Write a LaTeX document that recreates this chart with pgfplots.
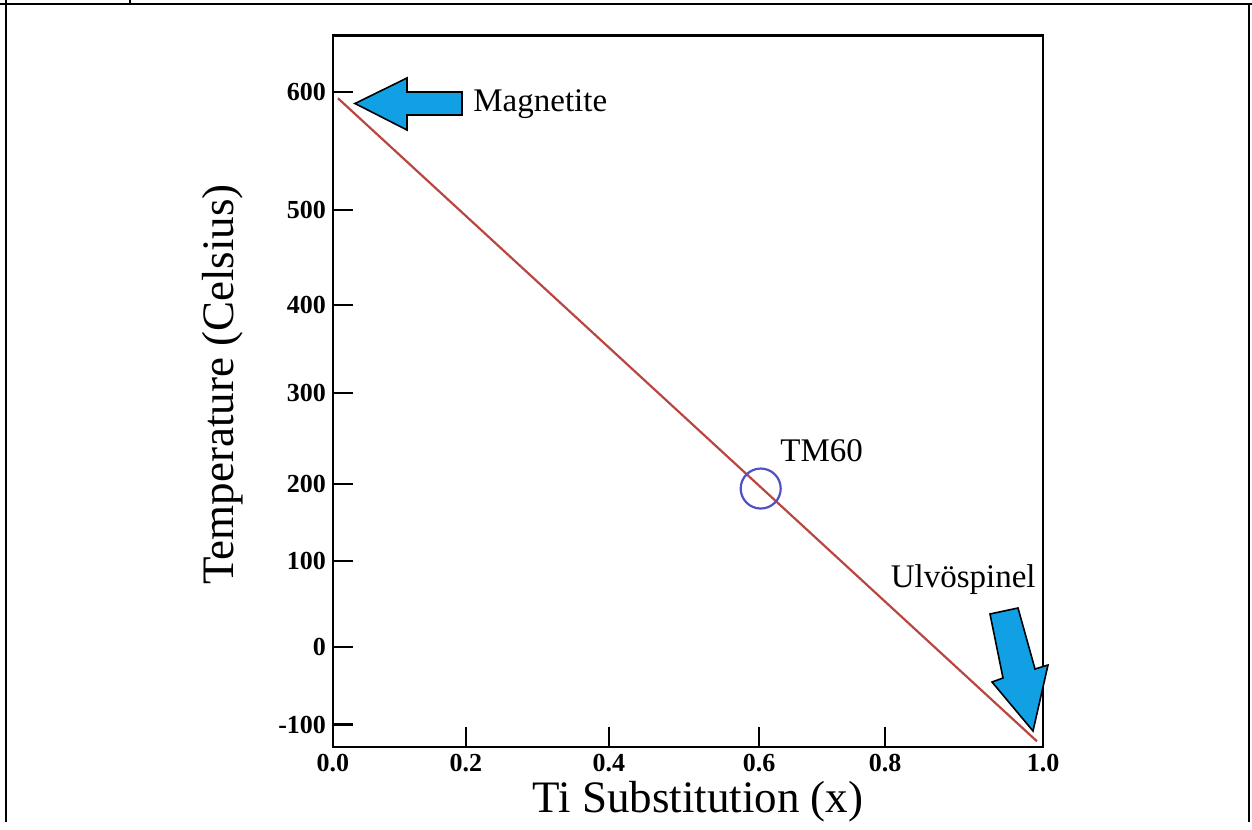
\documentclass[border=0pt]{standalone}
\usepackage{fontspec}
\setmainfont{Liberation Serif}
\usepackage{pgfplots}
\pgfplotsset{compat=1.18}
\definecolor{curie}{RGB}{185,70,65}
\definecolor{ring}{RGB}{80,80,200}
\definecolor{arrowblue}{RGB}{18,160,228}

\begin{document}
\begin{tikzpicture}
% frame of the page, in pixel units of the reference (axis origin at px 333,747)
\begin{scope}[xshift=-166.5pt, yshift=373.5pt, x=0.5pt, y=-0.5pt]
  \useasboundingbox (0,0) rectangle (1252,822);
  \draw[line width=1.2pt] (0,4) -- (1252,4);
  \draw[line width=1.2pt] (6,0) -- (6,822);
  \draw[line width=1.2pt] (130,0) -- (130,4);
  \draw[line width=1.2pt] (1249,4) -- (1249,822);
\end{scope}

\begin{axis}[
  scale only axis, width=355pt, height=355.6pt,
  xmin=0, xmax=1, ymin=-124.8, ymax=661.9,
  axis line style={line width=1.4pt},
  tick align=inside, major tick length=10pt,
  every tick/.style={black, line width=1.1pt},
  xtick pos=left, ytick pos=left,
  xtick={0,0.1873,0.3887,0.6,0.7775,1},
  xticklabels={0.0,0.2,0.4,0.6,0.8,1.0},
  ytick={-100,-14.5,80.6,165.8,266.5,363.8,468.9,600},
  yticklabels={-100,0,100,200,300,400,500,600},
  tick label style={font=\fontsize{13}{15}\selectfont\bfseries},
  xlabel={Ti Substitution (x)},
  ylabel={Temperature (Celsius)},
  every axis x label/.style={at={(axis description cs:0.514,-0.0927)}, anchor=base, font=\fontsize{22.5}{26}\selectfont},
  every axis y label/.style={at={(axis description cs:-0.1408,0.51)}, rotate=90, anchor=base, font=\fontsize{22.5}{26}\selectfont},
  clip=false,
]
\addplot[curie, line width=1.1pt] coordinates {(0.007,592.8) (0.9915,-118.5)};
\addplot[only marks, mark=o, mark size=10pt, mark options={ring, line width=1.1pt}] coordinates {(0.6024,161.1)};
\end{axis}

% annotations
\begin{scope}[xshift=-166.5pt, yshift=373.5pt, x=0.5pt, y=-0.5pt]
  \filldraw[fill=arrowblue, draw=black, line width=0.8pt, line join=miter]
    (355,103.5) -- (407,78) -- (407,92) -- (462,92) -- (462,115) -- (407,115) -- (407,130) -- cycle;
  \filldraw[fill=arrowblue, draw=black, line width=0.8pt, line join=miter]
    (990,614) -- (1018,608) -- (1035,669) -- (1048,665) -- (1033,731) -- (992,682) -- (1003,678) -- cycle;
  \node[anchor=base west, inner sep=0, font=\fontsize{16.5}{18}\selectfont] at (473,112) {Magnetite};
  \node[anchor=base west, inner sep=0, font=\fontsize{16.5}{18}\selectfont] at (780,461) {TM60};
  \node[anchor=base east, inner sep=0, font=\fontsize{16.5}{18}\selectfont] at (1036,587) {Ulvöspinel};
\end{scope}
\end{tikzpicture}
\end{document}
